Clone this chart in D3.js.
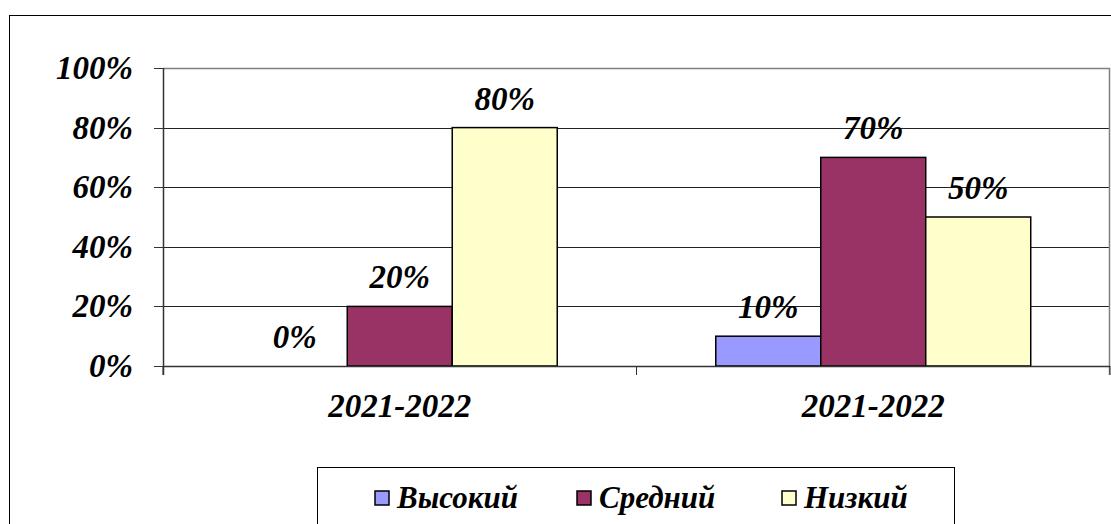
<!DOCTYPE html>
<html>
<head>
<meta charset="utf-8">
<script src="https://cdn.jsdelivr.net/npm/d3@7"></script>
<style>
  html, body { margin: 0; padding: 0; background: #fff; overflow: hidden; }
  text { font-family: "Liberation Serif", "Times New Roman", serif; font-weight: bold; font-style: italic; fill: #000; }
</style>
</head>
<body>
<svg id="chart" width="1111" height="524"></svg>
<script>
'use strict';
// chart data
var categories = ['2021-2022', '2021-2022'];
var seriesNames = ['Высокий', 'Средний', 'Низкий'];
var seriesColors = ['#9999FF', '#993366', '#FFFFCC'];
// values per category, in seriesNames order
var values = [
  [0, 20, 80],
  [10, 70, 50]
];
var yTicks = [0, 20, 40, 60, 80, 100];

var svg = d3.select('#chart');
var margin = {top: 68, right: 1, bottom: 158, left: 163}
    ,width = 1111 - margin.left - margin.right
    ,height = 524 - margin.top - margin.bottom;

// outer chart border (runs off right and bottom edges)
svg.append('rect')
   .attr('x', 9.5).attr('y', 15.5)
   .attr('width', 1200).attr('height', 600)
   .attr('fill', 'none').attr('stroke', '#000').attr('stroke-width', 1);

var g = svg.append('g').attr('transform', 'translate(' + margin.left + ',' + margin.top + ')');

var x0 = d3.scaleBand().domain(d3.range(categories.length)).range([0, width]);
var x1 = d3.scaleBand().domain(seriesNames).range([0, x0.bandwidth()]).paddingOuter(0.755);
var y = d3.scaleLinear().domain([0, 100]).range([height, 0]);

// gridlines
g.selectAll('.grid')
 .data(yTicks.filter(function(d) { return d > 0 && d < 100; }))
 .enter().append('line')
   .attr('x1', 0).attr('x2', width)
   .attr('y1', function(d) { return Math.round(y(d)) + 0.5; })
   .attr('y2', function(d) { return Math.round(y(d)) + 0.5; })
   .attr('stroke', '#222').attr('stroke-width', 1);

// plot area top / right border
g.append('path')
 .attr('d', 'M0,' + (Math.round(y(100)) + 0.5) + 'H' + (width - 0.5) + 'V' + (height + 9))
 .attr('fill', 'none').attr('stroke', '#808080').attr('stroke-width', 1.5);

// bars
var groups = g.selectAll('.grp')
  .data(values).enter().append('g')
    .attr('transform', function(d, i) { return 'translate(' + x0(i) + ',0)'; });

groups.selectAll('rect')
  .data(function(d) { return d.map(function(v, j) { return {name: seriesNames[j], value: v, color: seriesColors[j]}; }); })
  .enter().filter(function(d) { return d.value > 0; }).append('rect')
    .attr('x', function(d) { return x1(d.name); })
    .attr('y', function(d) { return y(d.value); })
    .attr('width', x1.bandwidth())
    .attr('height', function(d) { return height - y(d.value); })
    .attr('fill', function(d) { return d.color; })
    .attr('stroke', '#000').attr('stroke-width', 1.5);

// value labels
groups.selectAll('text.val')
  .data(function(d) { return d.map(function(v, j) { return {name: seriesNames[j], value: v}; }); })
  .enter().append('text')
    .attr('class', 'val')
    .attr('x', function(d) { return x1(d.name) + x1.bandwidth() / 2; })
    .attr('y', function(d) { return y(d.value) - 18; })
    .attr('text-anchor', 'middle')
    .style('font-size', '33px')
    .text(function(d) { return d.value + '%'; });

// x axis line and category ticks
g.append('line')
 .attr('x1', 0).attr('x2', width)
 .attr('y1', height + 0.5).attr('y2', height + 0.5)
 .attr('stroke', '#333').attr('stroke-width', 1.5);
g.selectAll('.xtick')
 .data(d3.range(categories.length + 1))
 .enter().append('line')
   .attr('x1', function(i) { return i < categories.length ? x0(i) : width; })
   .attr('x2', function(i) { return i < categories.length ? x0(i) : width; })
   .attr('y1', height).attr('y2', height + 9)
   .attr('stroke', '#333').attr('stroke-width', 1);

g.selectAll('.xlab')
 .data(categories).enter().append('text')
   .attr('x', function(d, i) { return x0(i) + x0.bandwidth() / 2; })
   .attr('y', height + 51)
   .attr('text-anchor', 'middle')
   .style('font-size', '33px')
   .text(function(d) { return d; });

// y axis
g.append('line')
 .attr('x1', 0.5).attr('x2', 0.5)
 .attr('y1', y(100)).attr('y2', height + 9)
 .attr('stroke', '#333').attr('stroke-width', 1.5);
g.selectAll('.ytick')
 .data(yTicks).enter().append('line')
   .attr('x1', -9).attr('x2', 0)
   .attr('y1', function(d) { return Math.round(y(d)) + 0.5; })
   .attr('y2', function(d) { return Math.round(y(d)) + 0.5; })
   .attr('stroke', '#333').attr('stroke-width', 1);
g.selectAll('.ylab')
 .data(yTicks).enter().append('text')
   .attr('x', -30)
   .attr('y', function(d) { return y(d) + 11; })
   .attr('text-anchor', 'end')
   .style('font-size', '33px')
   .text(function(d) { return d + '%'; });

// legend
var legend = svg.append('g');
legend.append('rect')
  .attr('x', 317.5).attr('y', 467.5)
  .attr('width', 637).attr('height', 80)
  .attr('fill', '#fff').attr('stroke', '#000').attr('stroke-width', 1);
var legendX = [375, 577, 782];
var item = legend.selectAll('.item')
  .data(seriesNames).enter().append('g')
    .attr('transform', function(d, i) { return 'translate(' + legendX[i] + ',491)'; });
item.append('rect')
  .attr('width', 14).attr('height', 14)
  .attr('fill', function(d, i) { return seriesColors[i]; })
  .attr('stroke', '#000').attr('stroke-width', 1.5);
item.append('text')
  .attr('x', 22).attr('y', 17)
  .style('font-size', '31px')
  .text(function(d) { return d; });
</script>
</body>
</html>
